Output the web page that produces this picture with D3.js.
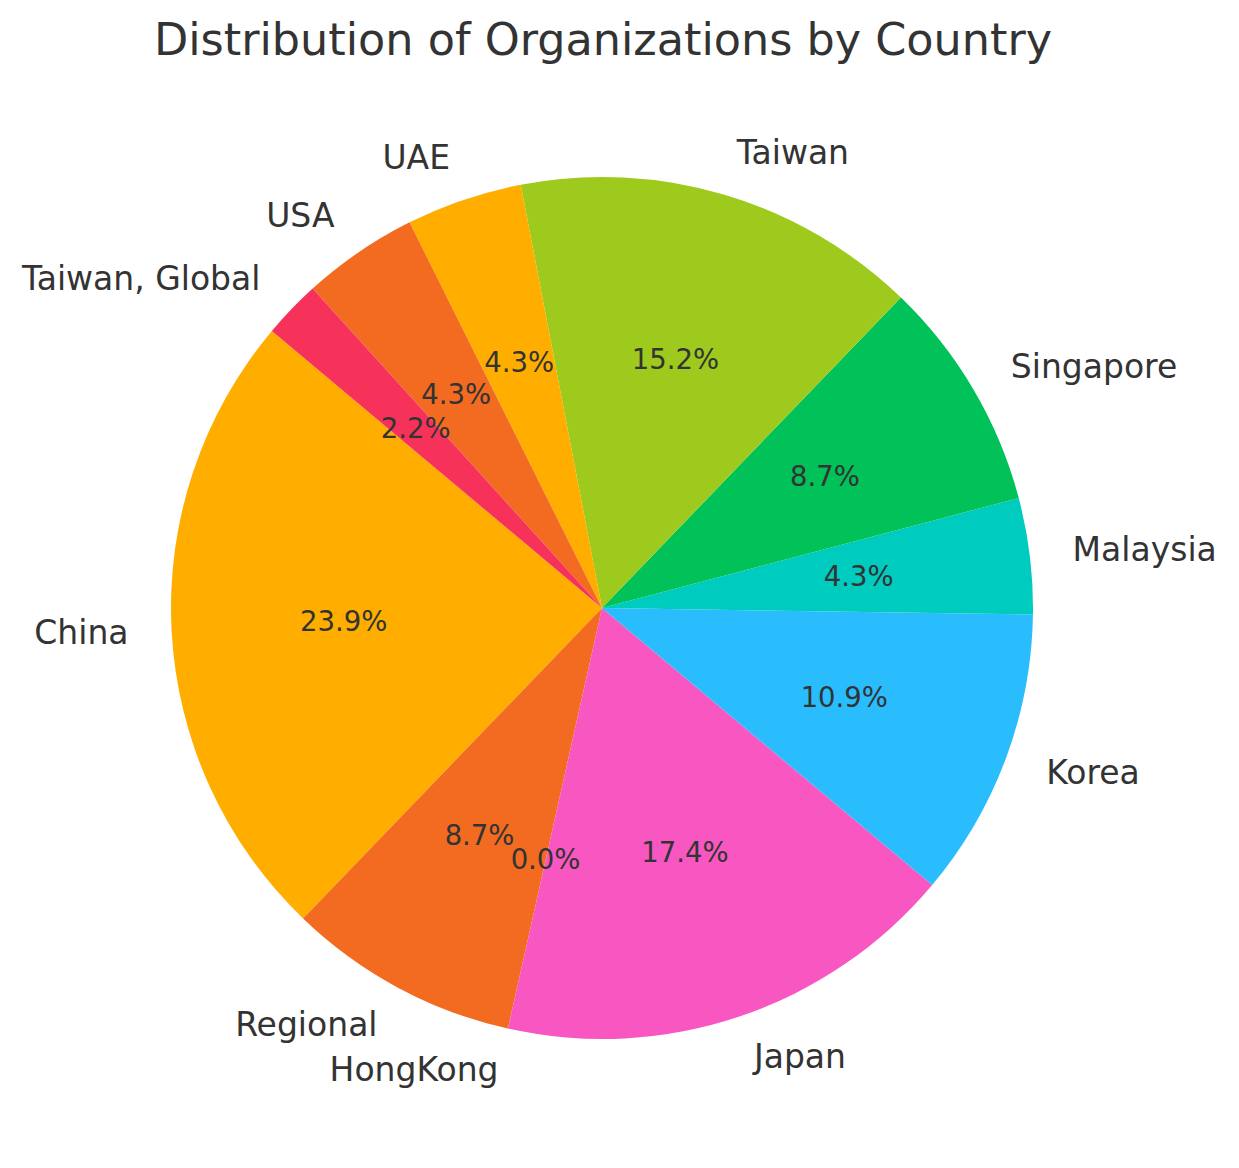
<!DOCTYPE html>
<html><head><meta charset="utf-8">
<script src="https://cdn.jsdelivr.net/npm/d3@7"></script>
<style>body{margin:0;background:#fff;} text{font-family:"DejaVu Sans",sans-serif;fill:#333333;}</style>
</head><body>
<svg id="chart" width="1239" height="1168"></svg>
<script>
const categories = ["China","Regional","HongKong","Japan","Korea","Malaysia","Singapore","Taiwan","UAE","USA","Taiwan, Global"];
const counts = [11,4,0,8,5,2,4,7,2,2,1];
const colors = ["#FFAE00","#F26B21","#F7325A","#F857C1","#29BDFD","#00CBBF","#01C159","#9DCA1C","#FFAE00","#F26B21","#F7325A"];
const title = "Distribution of Organizations by Country";

const svg = d3.select("#chart");
const cx = 602, cy = 608, R = 431;
const startDeg = 140; // matplotlib-style, counterclockwise from +x
const total = d3.sum(counts);
const toD3 = deg => (90 - deg) * Math.PI / 180;

const data = [];
let acc = startDeg;
counts.forEach((v,i) => {
  const span = v / total * 360;
  data.push({name: categories[i], value: v, a0: acc, a1: acc + span, color: colors[i]});
  acc += span;
});

const g = svg.append("g").attr("transform", `translate(${cx},${cy})`);
const arc = d3.arc().innerRadius(0).outerRadius(R);
g.selectAll("path").data(data).join("path")
  .attr("d", d => arc({startAngle: toD3(d.a1), endAngle: toD3(d.a0)}))
  .attr("fill", d => d.color);

data.forEach(d => {
  const mid = (d.a0 + d.a1) / 2 * Math.PI / 180;
  const lx = 1.1 * R * Math.cos(mid), ly = -1.1 * R * Math.sin(mid);
  g.append("text").attr("x", lx).attr("y", ly - 1)
    .attr("text-anchor", lx < 0 ? "end" : "start")
    .attr("dominant-baseline", "central")
    .style("font-size", "33px").text(d.name);
  const px = 0.6 * R * Math.cos(mid), py = -0.6 * R * Math.sin(mid);
  g.append("text").attr("x", px).attr("y", py - 1)
    .attr("text-anchor", "middle").attr("dominant-baseline", "central")
    .style("font-size", "27.5px").text((d.value / total * 100).toFixed(1) + "%");
});

svg.append("text").attr("x", 603).attr("y", 39).attr("text-anchor","middle")
  .attr("dominant-baseline","central").style("font-size","44.5px").text(title);
</script>
</body></html>
